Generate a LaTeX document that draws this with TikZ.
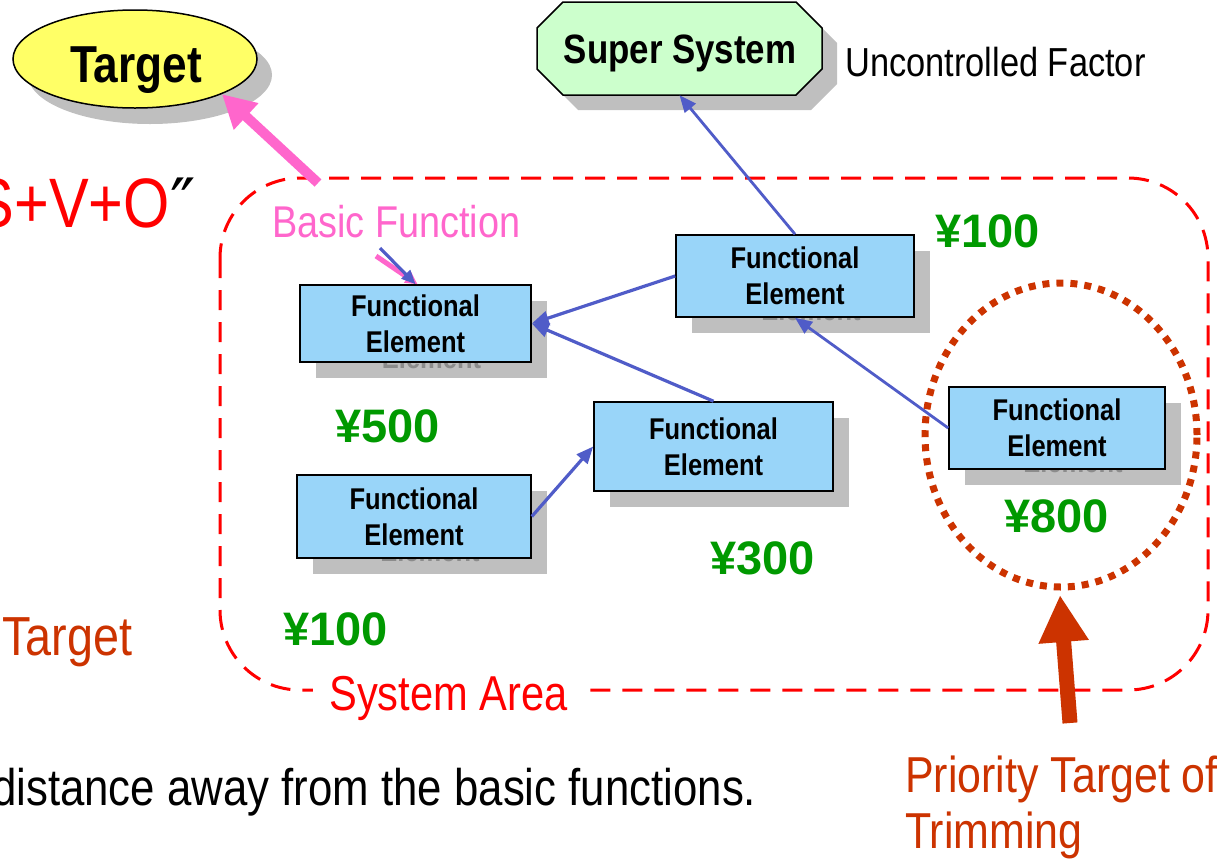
\documentclass[tikz,border=0pt]{standalone}
\usepackage{fontspec}
\setmainfont{Liberation Sans}
\newfontfamily\nar[FakeStretch=0.85]{Liberation Sans}
\newfontfamily\dejavu{DejaVu Sans}
\usetikzlibrary{shapes.geometric,arrows.meta}

\definecolor{shadowgrey}{RGB}{191,191,191}
\definecolor{ghosttext}{RGB}{140,140,140}
\definecolor{feblue}{RGB}{153,213,249}
\definecolor{tyellow}{RGB}{255,255,102}
\definecolor{ssgreen}{RGB}{204,255,204}
\definecolor{linkblue}{RGB}{80,92,200}
\definecolor{pinkfn}{RGB}{255,102,204}
\definecolor{rust}{RGB}{204,51,0}
\definecolor{cost}{RGB}{0,153,0}
\definecolor{areared}{RGB}{255,0,0}

% functional element box with its drop shadow (shadow carries a grey copy of the text)
\newcommand\fenode[5]{%
  \node[feshadow, minimum width=#4pt, minimum height=#5pt] (#1s) at (#2+16,#3+16) {Functional\\Element};
  \node[febox, minimum width=#4pt, minimum height=#5pt] (#1) at (#2,#3) {Functional\\Element};}

\begin{document}
\begin{tikzpicture}[x=1pt,y=-1pt,
  febox/.style={draw=black, line width=1.6pt, fill=feblue, align=center, inner sep=0pt,
    font=\nar\bfseries\fontsize{30}{36}\selectfont},
  feshadow/.style={fill=shadowgrey, text=ghosttext, align=center, inner sep=0pt,
    font=\nar\bfseries\fontsize{30}{36}\selectfont},
  link/.style={draw=linkblue, line width=3.2pt, -{Triangle[length=17pt,width=14pt]}},
  price/.style={text=cost, font=\bfseries\fontsize{47}{50}\selectfont, anchor=base west, inner sep=0pt},
  plain/.style={anchor=base west, inner sep=0pt},
]
\useasboundingbox (0,0) rectangle (1220,860);
\clip (0,0) rectangle (1220,860);

% --- system area boundary ---
\draw[areared, line width=3pt, dash pattern=on 20pt off 12pt, rounded corners=80pt]
  (220,178) rectangle (1208,690);
\node[anchor=base, fill=white, inner xsep=16pt, inner ysep=4pt, text=areared,
  font=\nar\fontsize{49}{52}\selectfont] (area) at (448.5,710) {System Area};

% --- target ellipse ---
\fill[shadowgrey] (150,75) ellipse [x radius=122, y radius=49];
\node[ellipse, draw=black, line width=1.5pt, fill=tyellow, minimum width=244pt,
  minimum height=98pt, inner sep=0pt] (target) at (135,59) {};
\node[anchor=base, inner sep=0pt, font=\nar\bfseries\fontsize{52}{56}\selectfont] (targettext) at (136,82) {Target};

% --- super system octagon ---
\fill[shadowgrey] (578,17) -- (811,17) -- (837,43) -- (837,84) -- (811,110) -- (578,110) -- (552,84) -- (552,43) -- cycle;
\filldraw[fill=ssgreen, draw=black, line width=1.5pt]
  (563,2) -- (796,2) -- (822,28) -- (822,69) -- (796,95) -- (563,95) -- (537,69) -- (537,28) -- cycle;
\node[inner sep=0pt, minimum width=285pt, minimum height=93pt] (super) at (679.5,48.5) {};
\node[anchor=base, inner sep=0pt, font=\nar\bfseries\fontsize{41}{44}\selectfont] (supertext) at (680,63) {Super System};
\node[plain, font=\nar\fontsize{40.5}{44}\selectfont] (uncontrolled) at (845,76) {Uncontrolled Factor};

% --- left side texts ---
\node[anchor=base east, inner sep=0pt, text=areared, font=\nar\fontsize{70}{74}\selectfont] (svo) at (170,227) {S+V+O};
\node[plain, font=\dejavu\fontsize{68}{70}\selectfont] (svoquote) at (170,227) {″};
\node[plain, text=rust, font=\nar\fontsize{55}{58}\selectfont] (lefttarget) at (2,655) {Target};
\node[plain, font=\nar\fontsize{51.5}{55}\selectfont] (note) at (-8,805) {distance away from the basic functions.};

% --- priority label ---
\node[plain, text=rust, font=\nar\fontsize{50.5}{56}\selectfont] (prio1) at (905,792) {Priority Target of};
\node[plain, text=rust, font=\nar\fontsize{50.5}{56}\selectfont] (prio2) at (905,848) {Trimming};

% --- basic function label ---
\node[plain, text=pinkfn, font=\nar\fontsize{44.5}{48}\selectfont] (basic) at (272,237) {Basic Function};

% --- priority circle ---
\node[ellipse, draw=rust, line width=7pt, dash pattern=on 7pt off 7pt, minimum width=272pt,
  minimum height=304pt, inner sep=0pt, outer sep=0pt] (prio) at (1061,435) {};

% --- functional elements ---
\fenode{fa}{415.5}{323.5}{231}{77}
\fenode{fb}{795}{276}{238}{82}
\fenode{fc}{713.5}{446.5}{239}{89}
\fenode{fd}{414}{516.5}{234}{83}
\fenode{fe}{1057}{428}{216}{82}

% --- costs ---
\node[price] (c1) at (935,247) {¥100};
\node[price] (c2) at (335,442) {¥500};
\node[price] (c3) at (1004,532) {¥800};
\node[price] (c4) at (710,574) {¥300};
\node[price] (c5) at (283,645) {¥100};

% --- function links ---
\draw[link] (fb.west) -- (fa.east);
\draw[link] (fc.north) -- (fa.east);
\draw[link] (fd.east) -- (fc.west);
\draw[link, line width=2.8pt] (fb.north) -- (super.south);
\draw[link, line width=2.8pt] (fe.west) -- (fb.south);

% --- basic function pointer ---
\coordinate (bfpink) at (376,256);
\coordinate (bfblue) at (380,248);
\draw[pinkfn, line width=5pt, -{Triangle[length=12pt,width=12pt]}] (bfpink) -- ([xshift=2pt]fa.north);
\draw[linkblue, line width=3.2pt, -{Triangle[length=14pt,width=12pt]}] (bfblue) -- (fa.north);

% --- emphasis arrows ---
\coordinate (pinkstart) at (318,183);
\draw[pinkfn, line width=10pt, -{Triangle[length=33pt,width=34pt]}] (pinkstart) -- (target.-22);
\coordinate (ruststart) at (1070,723);
\coordinate (rusttip) at (1060,595);
\draw[rust, line width=15pt, -{Triangle[length=47pt,width=47pt]}] (ruststart) -- (rusttip);
\end{tikzpicture}
\end{document}
